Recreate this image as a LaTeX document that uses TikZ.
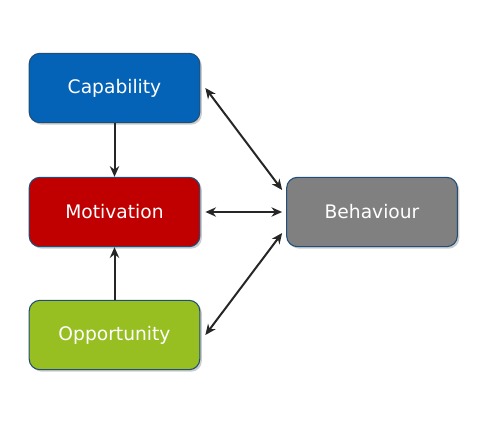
\documentclass[tikz,border=0pt]{standalone}
\usepackage{fontspec}
\setmainfont{DejaVu Sans}
\usetikzlibrary{positioning, arrows.meta, calc, shadows}
\definecolor{capblue}{RGB}{5, 99, 183}
\definecolor{motred}{RGB}{192, 0, 0}
\definecolor{oppgreen}{RGB}{151, 191, 34}
\definecolor{behgray}{RGB}{128, 128, 128}
\definecolor{edgeblue}{RGB}{31, 78, 121}

\begin{document}
\begin{tikzpicture}[x=0.75pt, y=-0.75pt, font=\fontsize{14}{17}\selectfont,
  comb/.style={draw=edgeblue, line width=0.8pt, rounded corners=8pt, text=white,
    minimum width=128pt, minimum height=52pt,
    drop shadow={shadow xshift=1.5pt, shadow yshift=-1.5pt, opacity=0.2, fill=black}},
  link/.style={line width=1.5pt, black!85, {Stealth[length=8pt, width=7pt]}-{Stealth[length=8pt, width=7pt]}},
  feed/.style={line width=1.5pt, black!85, -{Stealth[length=8pt, width=7pt]}}]
  \useasboundingbox (0,0) rectangle (496,437);
  \node[comb, fill=capblue] (cap) at (114.5,88){Capability};
  \node[comb, fill=motred] (mot) at (114.5,212){Motivation};
  \node[comb, fill=oppgreen] (opp) at (114.5,335){Opportunity};
  \node[comb, fill=behgray] (beh) at (372,212){Behaviour};
  \draw[feed] (cap.south) -- (mot.north);
  \draw[feed] (opp.north) -- (mot.south);
  \draw[link] ($(cap.east)+(5,0)$) -- ($(beh.west)+(-4,-22)$);
  \draw[link] ($(mot.east)+(5,0)$) -- ($(beh.west)+(-4,0)$);
  \draw[link] ($(opp.east)+(5,0)$) -- ($(beh.west)+(-4,21)$);
\end{tikzpicture}
\end{document}
